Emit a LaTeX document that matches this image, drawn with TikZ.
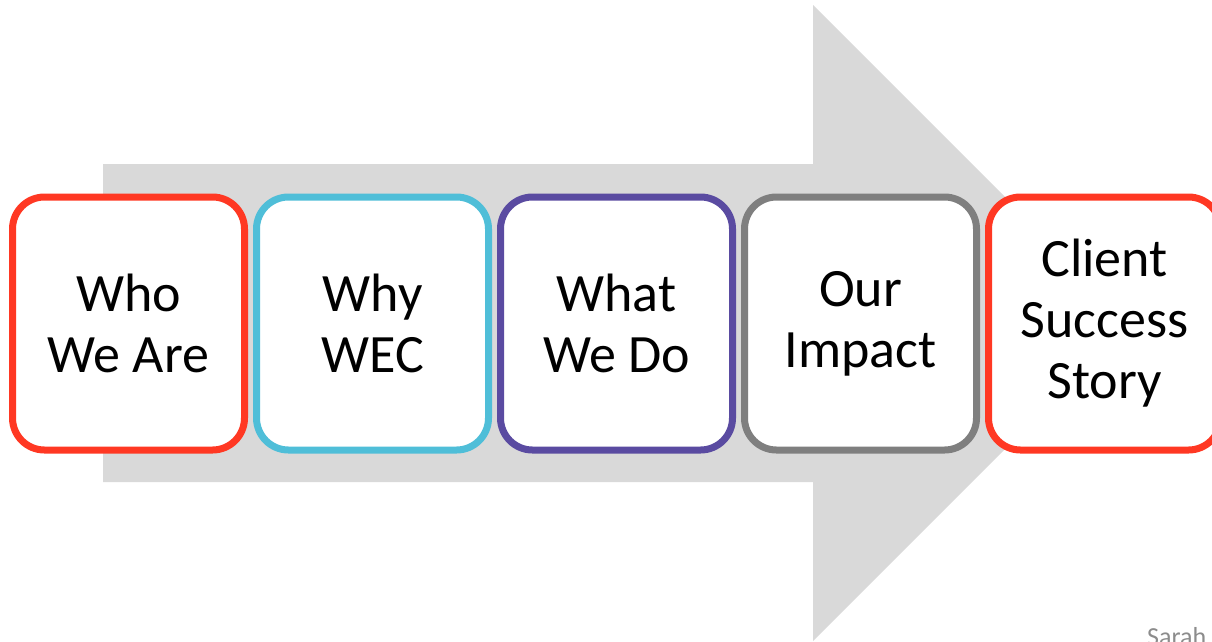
\documentclass[tikz,border=0pt]{standalone}
\usepackage{fontspec}
\setmainfont{Carlito}
\definecolor{arrowgray}{HTML}{D9D9D9}
\definecolor{cred}{HTML}{FF3823}
\definecolor{ccyan}{HTML}{4FBED8}
\definecolor{cpurple}{HTML}{5A4BA1}
\definecolor{cgray}{HTML}{7F7F7F}
\definecolor{notegray}{HTML}{8C8C8C}
\begin{document}
\begin{tikzpicture}[x=1pt,y=-1pt,
  stepbox/.style={draw, fill=white, line width=7pt, rounded corners=32pt,
    minimum width=232pt, minimum height=253pt, inner sep=0pt, anchor=center,
    align=center, font=\fontsize{54}{61}\selectfont, text=black}]
\useasboundingbox (0,0) rectangle (1212,641);
\clip (0,0) rectangle (1212,641);
\fill[arrowgray] (103,164) -- (813,164) -- (813,5) -- (1131,323) -- (813,641) -- (813,482) -- (103,482) -- cycle;
\node[stepbox, draw=cred]    (who)    at (128.5,323.5) {Who\\We Are};
\node[stepbox, draw=ccyan]   (why)    at (372.5,323.5) {Why\\WEC};
\node[stepbox, draw=cpurple] (what)   at (616.5,323.5) {What\\We Do};
\node[stepbox, draw=cgray]   (impact) at (860.5,323.5) {Our\\Impact};
\node[stepbox, draw=cred]    (client) at (1104.5,323.5) {Client\\Success\\Story};
\node[anchor=base west, inner sep=0pt, text=notegray, font=\fontsize{26}{30}\selectfont] (note) at (1147,645) {Sarah};
\end{tikzpicture}
\end{document}
